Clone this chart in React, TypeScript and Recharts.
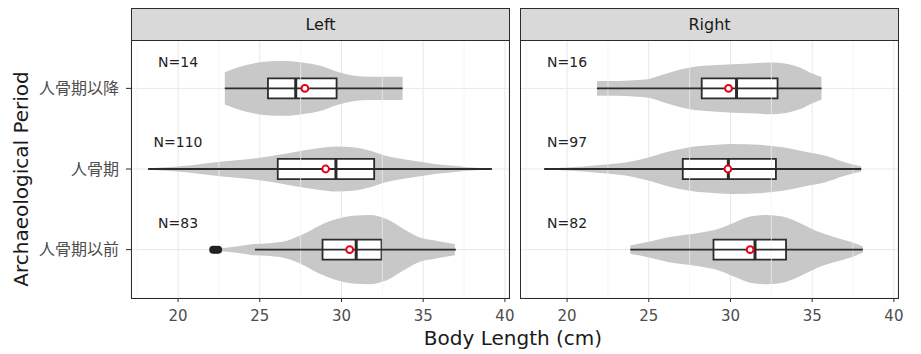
import { ComposedChart, Area, Scatter, XAxis, YAxis, CartesianGrid, ReferenceArea, ReferenceLine } from 'recharts';

// categories, bottom to top (y = 1, 2, 3)
const periods = ['人骨期以前', '人骨期', '人骨期以降'];
const sides = ['Left', 'Right'];
const xTicks = [20, 25, 30, 35, 40];
const xMinor = [17.5, 22.5, 27.5, 32.5, 37.5];
const xDomain = [17.12, 40.25];

// violin outlines: x positions and half widths (in category units)
const leftBeforeX = [22.25, 22.55, 23.57, 24.6, 25.6, 26.64, 27.65, 28.67, 29.7, 30.7, 31.74, 32.76, 33.78, 34.8, 35.8, 36.94];
const leftBeforeW = [0.02, 0.02, 0.04, 0.07, 0.08, 0.11, 0.19, 0.3, 0.38, 0.42, 0.43, 0.38, 0.26, 0.15, 0.11, 0.07];
const leftBoneX = [18.17, 20.5, 22.55, 24.6, 26.0, 27.65, 28.67, 29.7, 30.7, 31.7, 32.76, 33.8, 34.8, 35.8, 36.84, 37.86, 39.2];
const leftBoneW = [0.01, 0.04, 0.09, 0.13, 0.17, 0.23, 0.26, 0.28, 0.27, 0.23, 0.16, 0.12, 0.09, 0.06, 0.04, 0.02, 0.01];
const leftAfterX = [22.86, 23.5, 24.6, 25.6, 26.6, 27.6, 28.7, 29.7, 30.7, 31.7, 32.7, 33.74];
const leftAfterW = [0.2, 0.25, 0.31, 0.335, 0.34, 0.32, 0.28, 0.21, 0.16, 0.145, 0.145, 0.145];

const rightBeforeX = [23.87, 25.08, 26.1, 28.14, 29.15, 30.17, 31.2, 32.2, 33.2, 34.24, 35.26, 36.28, 37.3, 38.1];
const rightBeforeW = [0.05, 0.1, 0.15, 0.21, 0.25, 0.33, 0.41, 0.43, 0.41, 0.33, 0.23, 0.16, 0.1, 0.04];
const rightBoneX = [18.6, 20, 22.03, 24.07, 25.08, 26.1, 27.5, 29.15, 30.17, 31.8, 33.2, 34.65, 35.87, 36.88, 38.0];
const rightBoneW = [0.01, 0.02, 0.05, 0.1, 0.15, 0.21, 0.27, 0.3, 0.31, 0.3, 0.27, 0.21, 0.16, 0.09, 0.03];
const rightAfterX = [21.83, 23.05, 24.07, 25.08, 25.7, 26.5, 27.5, 29.15, 31.2, 32.6, 34.24, 35.05, 35.57];
const rightAfterW = [0.09, 0.09, 0.1, 0.12, 0.16, 0.21, 0.26, 0.29, 0.31, 0.32, 0.26, 0.18, 0.14];

// box stats per period (以前, 期, 以降)
const leftMin = [24.7, 18.17, 22.86];
const leftQ1 = [28.84, 26.1, 25.5];
const leftMed = [30.9, 29.66, 27.2];
const leftQ3 = [32.45, 32.0, 29.7];
const leftMax = [37.0, 39.2, 33.74];
const leftMean = [30.5, 29.03, 27.76];
const leftN = [83, 110, 14];
const leftOutliers = [22.15, 22.3, 22.45];

const rightMin = [23.87, 18.6, 21.83];
const rightQ1 = [28.96, 27.08, 28.24];
const rightMed = [31.5, 29.87, 30.37];
const rightQ3 = [33.4, 32.78, 32.88];
const rightMax = [38.1, 38.0, 35.57];
const rightMean = [31.2, 29.84, 29.88];
const rightN = [82, 97, 16];
const rightOutliers: number[] = [];

const FONT = '"DejaVu Sans", "Noto Sans CJK JP", sans-serif';
const BOX_HALF = 0.125;
const INK = '#2b2b2b';

const violin = (xs: number[], ws: number[], c: number) =>
  xs.map((x, i) => ({ x, band: [c - ws[i], c + ws[i]] }));

const panels = [
  {
    violins: [violin(leftBeforeX, leftBeforeW, 1), violin(leftBoneX, leftBoneW, 2), violin(leftAfterX, leftAfterW, 3)],
    min: leftMin, q1: leftQ1, med: leftMed, q3: leftQ3, max: leftMax, mean: leftMean, n: leftN, outliers: leftOutliers,
  },
  {
    violins: [violin(rightBeforeX, rightBeforeW, 1), violin(rightBoneX, rightBoneW, 2), violin(rightAfterX, rightAfterW, 3)],
    min: rightMin, q1: rightQ1, med: rightMed, q3: rightQ3, max: rightMax, mean: rightMean, n: rightN, outliers: rightOutliers,
  },
];

function Panel({ index, showY }: { index: number; showY: boolean }) {
  const p = panels[index];
  const meanData = p.mean.map((m, i) => ({ x: m, y: i + 1 }));
  const outData = p.outliers.map((o) => ({ x: o, y: 1 }));
  const nData = p.n.map((n, i) => ({ x: 20, y: i + 1.33, label: `N=${n}` }));
  const width = showY ? 521 : 390;

  return (
    <ComposedChart width={width} height={354} margin={{ top: 40, right: 12, bottom: 0, left: 0 }}>
      <CartesianGrid stroke="#e8e8e8" strokeWidth={1} />
      {xMinor.map((v) => (
        <ReferenceLine key={v} x={v} stroke="#f0f0f0" strokeWidth={0.7} />
      ))}
      <XAxis
        type="number"
        dataKey="x"
        domain={xDomain}
        ticks={xTicks}
        axisLine={false}
        tickLine={{ stroke: INK }}
        tickSize={4}
        tickMargin={8}
        tick={{ fill: '#4d4d4d', fontSize: 15 }}
        height={56}
        allowDataOverflow
      />
      <YAxis
        type="number"
        dataKey="y"
        domain={[0.4, 3.6]}
        ticks={[1, 2, 3]}
        tickFormatter={(v) => periods[v - 1]}
        axisLine={false}
        tickLine={{ stroke: INK }}
        tickSize={5}
        tickMargin={7}
        tick={{ fill: '#4d4d4d', fontSize: 16 }}
        width={131}
        hide={!showY}
        allowDataOverflow
      />
      {p.violins.map((d, i) => (
        <Area
          key={'v' + i}
          data={d}
          dataKey="band"
          type="monotone"
          fill="#c8c8c8"
          fillOpacity={1}
          stroke="none"
          isAnimationActive={false}
        />
      ))}
      {p.min.map((m, i) => (
        <ReferenceLine
          key={'w' + i}
          segment={[{ x: m, y: i + 1 }, { x: p.max[i], y: i + 1 }]}
          stroke={INK}
          strokeWidth={1.8}
        />
      ))}
      {p.q1.map((q, i) => (
        <ReferenceArea
          key={'b' + i}
          x1={q}
          x2={p.q3[i]}
          y1={i + 1 - BOX_HALF}
          y2={i + 1 + BOX_HALF}
          fill="#ffffff"
          fillOpacity={1}
          stroke={INK}
          strokeWidth={1.8}
        />
      ))}
      {p.med.map((m, i) => (
        <ReferenceLine
          key={'m' + i}
          segment={[{ x: m, y: i + 1 - BOX_HALF }, { x: m, y: i + 1 + BOX_HALF }]}
          stroke={INK}
          strokeWidth={3}
        />
      ))}
      <Scatter
        data={outData}
        isAnimationActive={false}
        shape={(s: any) => <circle cx={s.cx} cy={s.cy} r={4} fill="#222222" />}
      />
      <Scatter
        data={meanData}
        isAnimationActive={false}
        shape={(s: any) => <circle cx={s.cx} cy={s.cy} r={3.4} fill="#ffffff" stroke="#e8001c" strokeWidth={2} />}
      />
      <Scatter
        data={nData}
        isAnimationActive={false}
        shape={(s: any) => (
          <text x={s.cx} y={s.cy} textAnchor="middle" dominantBaseline="central" fontSize={14} fill="#222222">
            {s.payload.label}
          </text>
        )}
      />
    </ComposedChart>
  );
}

export default function App() {
  const strip = (left: number, label: string) => (
    <div
      style={{
        position: 'absolute', left, top: 8, width: 379, height: 33, boxSizing: 'border-box',
        background: '#d9d9d9', border: `1px solid ${INK}`, display: 'flex', alignItems: 'center',
        justifyContent: 'center', fontSize: 16, color: '#1a1a1a',
      }}
    >
      {label}
    </div>
  );
  const frame = (left: number) => (
    <div
      style={{
        position: 'absolute', left, top: 40, width: 379, height: 259, boxSizing: 'border-box',
        border: `1px solid ${INK}`, pointerEvents: 'none',
      }}
    />
  );

  return (
    <div style={{ position: 'absolute', left: 0, top: 0, width: 921, height: 354, background: '#fff', fontFamily: FONT }}>
      <div style={{ position: 'absolute', left: 0, top: 0 }}>
        <Panel index={0} showY />
      </div>
      <div style={{ position: 'absolute', left: 520, top: 0 }}>
        <Panel index={1} showY={false} />
      </div>
      {strip(131, sides[0])}
      {strip(520, sides[1])}
      {frame(131)}
      {frame(520)}
      <div
        style={{
          position: 'absolute', left: 21, top: 179, transform: 'translate(-50%, -50%) rotate(-90deg)',
          whiteSpace: 'nowrap', fontSize: 20, color: '#1a1a1a',
        }}
      >
        Archaeological Period
      </div>
      <div
        style={{
          position: 'absolute', left: 513, top: 338, transform: 'translate(-50%, -50%)',
          whiteSpace: 'nowrap', fontSize: 20, color: '#1a1a1a',
        }}
      >
        Body Length (cm)
      </div>
    </div>
  );
}
